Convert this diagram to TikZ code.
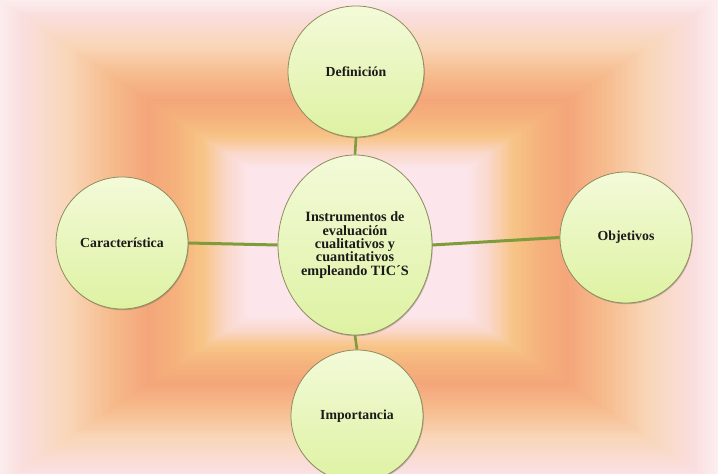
\documentclass[tikz,border=0pt]{standalone}
\usepackage{fontspec}
\setmainfont{Liberation Serif}
\usetikzlibrary{shapes.geometric,shadows}
\definecolor{bgA}{HTML}{FDF1F2}
\definecolor{bgB}{HTML}{FADFE0}
\definecolor{bgC}{HTML}{F9D6B8}
\definecolor{bgD}{HTML}{F6BB8C}
\definecolor{bgE}{HTML}{F4A67A}
\definecolor{bgF}{HTML}{F5B27C}
\definecolor{bgG}{HTML}{F7C486}
\definecolor{bgH}{HTML}{FAD8CC}
\definecolor{bgI}{HTML}{FCE6EB}
\definecolor{bubtop}{HTML}{F3FAD9}
\definecolor{bubbot}{HTML}{DEF2A2}
\definecolor{bubline}{HTML}{8E8B5E}
\definecolor{linkcol}{HTML}{7F9B3A}
\definecolor{txt}{HTML}{1A1A1A}
\pgfdeclarelayer{back}
\pgfdeclarelayer{links}
\pgfsetlayers{back,links,main}
\tikzset{
  bubble/.style={ellipse, inner sep=0pt, draw=bubline, line width=0.8pt,
    top color=bubtop, bottom color=bubbot, text=txt, align=center,
    font=\bfseries\fontsize{13.8}{12.6}\selectfont,
    drop shadow={shadow xshift=0.8pt, shadow yshift=-1.2pt, opacity=0.3, fill=black!70}},
  centerbubble/.style={bubble, font=\bfseries\fontsize{14.2}{13.4}\selectfont},
  link/.style={draw=linkcol, line width=3pt}
}
\begin{document}
\begin{tikzpicture}[x=1pt,y=-1pt]
\useasboundingbox (0,0) rectangle (718,474);
\begin{pgfonlayer}{back}
\begin{scope}
\clip (0,0) rectangle (718,474);
\fill[bgA] (0,0) rectangle (718,474);
\foreach \ta/\tb/\ca/\cb in {1.00/0.93/bgA/bgB, 0.93/0.80/bgB/bgC, 0.80/0.68/bgC/bgD,
  0.68/0.58/bgD/bgE, 0.58/0.50/bgE/bgF, 0.50/0.43/bgF/bgG, 0.43/0.36/bgG/bgH,
  0.36/0.30/bgH/bgI}{
  \foreach \k in {0,...,16}{
    \pgfmathsetmacro{\t}{\ta-(\ta-\tb)*\k/16}
    \pgfmathtruncatemacro{\p}{100*\k/16}
    \fill[\cb!\p!\ca] ({358-364*\t},{242-246*\t}) rectangle ({358+364*\t},{242+246*\t});
  }
}
\end{scope}
\end{pgfonlayer}

\node[centerbubble, minimum width=154pt, minimum height=180pt] (c) at (355,245)
  {Instrumentos de\\evaluación\\cualitativos y\\cuantitativos\\empleando TIC´S};
\node[bubble, minimum width=136pt, minimum height=131pt] (def) at (356,71.5) {Definición};
\node[bubble, minimum width=132pt, minimum height=132pt] (car) at (122,243) {Característica};
\node[bubble, minimum width=132pt, minimum height=131pt] (obj) at (626,237.5) {Objetivos};
\node[bubble, minimum width=132pt, minimum height=132pt] (imp) at (357,416) {Importancia};

\begin{pgfonlayer}{links}
\draw[link, line width=2.6pt] (c.north) -- (def.south);
\draw[link, line width=2.6pt] (c.south) -- (imp.north);
\draw[link] (car.east) -- (c.west);
\draw[link] (c.east) -- (obj.west);
\end{pgfonlayer}
\end{tikzpicture}
\end{document}
